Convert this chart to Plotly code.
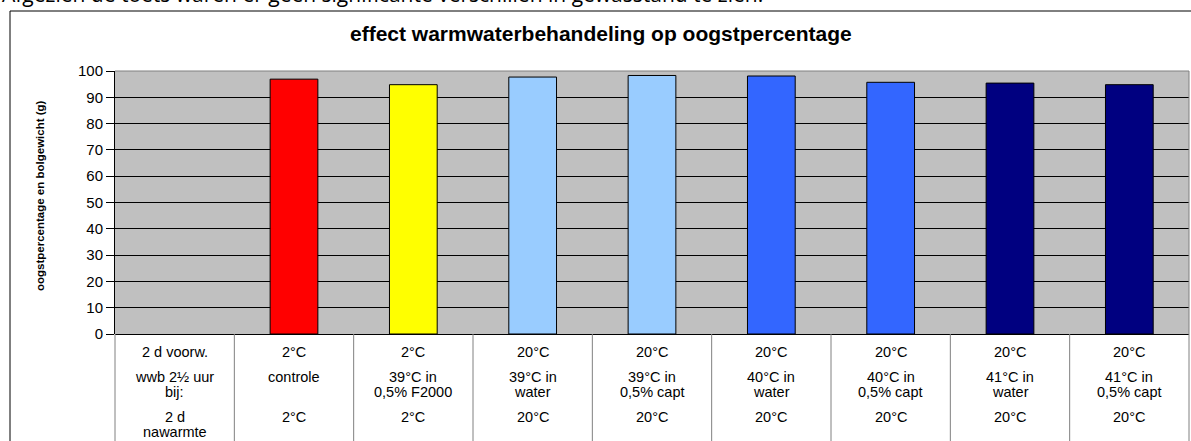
import plotly.graph_objects as go

# ---- data ----
categories = ["c0", "c1", "c2", "c3", "c4", "c5", "c6", "c7", "c8"]
values = [None, 96.9, 94.8, 97.7, 98.3, 98.1, 95.7, 95.4, 94.8]
bar_colors = ["#FFFFFF", "#FF0000", "#FFFF00", "#99CCFF", "#99CCFF",
              "#3366FF", "#3366FF", "#000080", "#000080"]
row1 = ["2 d voorw.", "2°C", "2°C", "20°C", "20°C", "20°C", "20°C", "20°C", "20°C"]
row2 = ["wwb 2½ uur<br>bij:", "controle", "39°C in<br>0,5% F2000", "39°C in<br>water",
        "39°C in<br>0,5% capt", "40°C in<br>water", "40°C in<br>0,5% capt",
        "41°C in<br>water", "41°C in<br>0,5% capt"]
row3 = ["2 d<br>nawarmte", "2°C", "2°C", "20°C", "20°C", "20°C", "20°C", "20°C", "20°C"]
y_ticks = [0, 10, 20, 30, 40, 50, 60, 70, 80, 90, 100]

title_text = "effect warmwaterbehandeling op oogstpercentage"
y_title = "oogstpercentage en bolgewicht (g)"
doc_text = "Afgezien de toets waren er geen significante verschillen in gewasstand te zien."

# ---- layout geometry (pixels) ----
W, H = 1191, 441
L, R, T, B = 115, 2, 71, 107
PW = W - L - R
PH = H - T - B


def px_x(px):
    return (px - L) / PW


def px_y(py):
    return (H - B - py) / PH


FONT = "Liberation Sans, Arial, sans-serif"
TFS = 14.5

fig = go.Figure()
fig.add_trace(go.Bar(
    x=categories, y=values,
    marker=dict(color=bar_colors, line=dict(color="#000000", width=1)),
    width=0.4, showlegend=False, hoverinfo="y",
))

annotations = []
row_specs = [(row1, 352), (row2, 377), (row3, 417)]
for rows, y_first in row_specs:
    for i, c in enumerate(categories):
        for j, line in enumerate(rows[i].split("<br>")):
            annotations.append(dict(x=c, xref="x", y=px_y(y_first + 15 * j), yref="paper",
                                    text=line, showarrow=False, yanchor="middle",
                                    xanchor="center",
                                    font=dict(family=FONT, size=TFS, color="#000")))

annotations.append(dict(x=px_x(601), xref="paper", y=px_y(33), yref="paper",
                        text="<b>" + title_text + "</b>", showarrow=False,
                        xanchor="center", yanchor="middle",
                        font=dict(family=FONT, size=21, color="#000")))
annotations.append(dict(x=px_x(40), xref="paper", y=px_y(196), yref="paper",
                        text="<b>" + y_title + "</b>", showarrow=False, textangle=-90,
                        xanchor="center", yanchor="middle",
                        font=dict(family=FONT, size=11.5, color="#000")))
annotations.append(dict(x=px_x(0), xref="paper", y=px_y(-6), yref="paper",
                        text=doc_text, showarrow=False, xanchor="left", yanchor="middle",
                        font=dict(family="Open Sans, sans-serif", size=21, color="#000")))

shapes = []
n = len(categories)
for k in range(n + 1):
    shapes.append(dict(type="line", xref="paper", yref="paper",
                       x0=k / n, x1=k / n, y0=0, y1=px_y(H + 5),
                       line=dict(color="#808080", width=1)))
shapes.append(dict(type="line", xref="paper", yref="paper", x0=0, x1=1, y0=1, y1=1,
                   line=dict(color="#808080", width=1)))
shapes.append(dict(type="line", xref="paper", yref="paper", x0=1, x1=1, y0=0, y1=1,
                   line=dict(color="#808080", width=1)))
shapes.append(dict(type="rect", xref="paper", yref="paper",
                   x0=px_x(10), x1=px_x(W + 5), y0=px_y(H + 5), y1=px_y(11),
                   line=dict(color="#000000", width=1), fillcolor="rgba(0,0,0,0)",
                   layer="below"))

fig.update_layout(
    width=W, height=H,
    margin=dict(l=L, r=R, t=T, b=B, pad=0),
    paper_bgcolor="#FFFFFF", plot_bgcolor="#C0C0C0",
    bargap=0.6,
    xaxis=dict(showticklabels=False, ticks="", showgrid=False, zeroline=False,
               showline=False, range=[-0.5, n - 0.5], fixedrange=True),
    yaxis=dict(range=[0, 100], tickvals=y_ticks, ticks="outside", ticklen=8,
               tickcolor="#000", showgrid=True, gridcolor="#000000", gridwidth=1,
               showline=True, linecolor="#000000", linewidth=1, zeroline=True,
               zerolinecolor="#000000", zerolinewidth=1,
               tickfont=dict(family=FONT, size=15, color="#000"), fixedrange=True),
    annotations=annotations,
    shapes=shapes,
)

fig.write_html("out.html", config={"displayModeBar": False},
               post_script="document.body.style.margin='0';document.body.style.overflow='hidden';")
